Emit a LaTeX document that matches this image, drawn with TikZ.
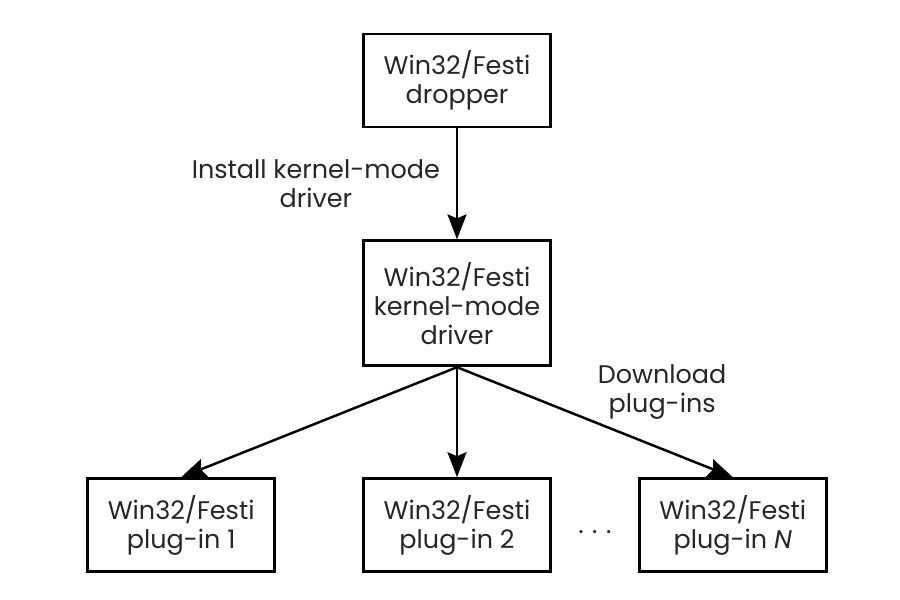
\documentclass[tikz,border=0pt]{standalone}
\usepackage{fontspec}
\setmainfont{Poppins}
\usepackage{tikz}
\usetikzlibrary{arrows.meta,positioning,calc}

\begin{document}
\begin{tikzpicture}[
    node distance=2.2cm,
    module/.style={rectangle, draw, line width=1.6pt, minimum width=3.74cm, minimum height=1.86cm, align=center, font=\fontsize{14.5}{16.5}\selectfont, text=black!85},
    label/.style={align=center, font=\fontsize{14.5}{16.5}\selectfont, text=black!85},
    arrow/.style={-{Stealth[length=5mm,width=3.8mm,inset=0.8mm]}, line width=1.4pt}
]
\useasboundingbox (0,0) rectangle (18,12);

% Dropper and driver
\node[module] (dropper) at (9.14,10.39) {Win32/Festi\\dropper};
\node[module, minimum height=2.5cm, below=2.22cm of dropper] (driver) {Win32/Festi\\kernel-mode\\driver};

% Plug-ins
\node[module, below=2.2cm of driver] (plugin2) {Win32/Festi\\plug-in 2};
\node[module, left=1.72cm of plugin2] (plugin1) {Win32/Festi\\plug-in 1};
\node[module, right=1.72cm of plugin2] (pluginN) {Win32/Festi\\plug-in \textit{N}};
\node[label, yshift=-0.14cm] (dots) at ($(plugin2.east)!0.5!(pluginN.west)$) {.\,\,.\,\,.};

% Connections
\draw[arrow] (dropper) -- node[label, left, xshift=-0.2cm] {Install kernel-mode\\driver} (driver);
\draw[arrow] (driver.south) -- (plugin1.north);
\draw[arrow] (driver.south) -- (plugin2.north);
\draw[arrow] (driver.south) -- node[label, above right, inner sep=1pt] {Download\\plug-ins} (pluginN.north);

\end{tikzpicture}
\end{document}
